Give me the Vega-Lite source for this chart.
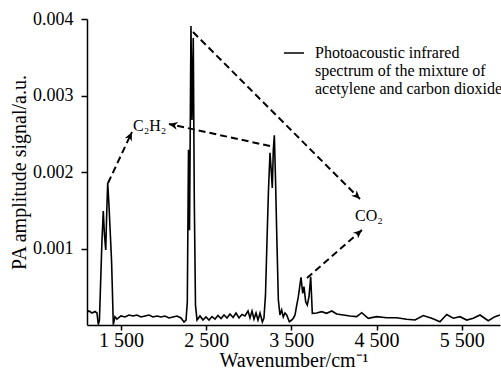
{
  "$schema": "https://vega.github.io/schema/vega-lite/v6.json",
  "width": 413,
  "height": 306,
  "autosize": "none",
  "padding": {"left": 87, "top": 19, "right": 1, "bottom": 47},
  "background": "white",
  "config": {
    "view": {"stroke": null},
    "font": "Liberation Serif",
    "axis": {
      "grid": false,
      "domainColor": "black",
      "domainWidth": 1.5,
      "tickColor": "black",
      "tickWidth": 1.5,
      "labelColor": "black",
      "titleColor": "black",
      "labelFont": "Liberation Serif",
      "titleFont": "Liberation Serif",
      "titleFontWeight": "normal"
    },
    "legend": {
      "labelFont": "Liberation Serif",
      "labelColor": "black"
    }
  },
  "datasets": {
    "spectrum": [
      {"wn": 1100, "pa": 0.000170},
      {"wn": 1123, "pa": 0.000183},
      {"wn": 1159, "pa": 0.000157},
      {"wn": 1194, "pa": 0.000176},
      {"wn": 1217, "pa": 0.000157},
      {"wn": 1233, "pa": 0.000005},
      {"wn": 1246, "pa": 0.000065},
      {"wn": 1276, "pa": 0.00111},
      {"wn": 1291, "pa": 0.00149},
      {"wn": 1305, "pa": 0.00118},
      {"wn": 1320, "pa": 0.00098},
      {"wn": 1331, "pa": 0.00144},
      {"wn": 1343, "pa": 0.00186},
      {"wn": 1358, "pa": 0.00157},
      {"wn": 1370, "pa": 0.00128},
      {"wn": 1388, "pa": 0.00085},
      {"wn": 1397, "pa": 0.00050},
      {"wn": 1409, "pa": 0.000005},
      {"wn": 1429, "pa": 0.000109},
      {"wn": 1452, "pa": 0.000078},
      {"wn": 1499, "pa": 0.000118},
      {"wn": 1546, "pa": 0.000105},
      {"wn": 1593, "pa": 0.000131},
      {"wn": 1640, "pa": 0.000118},
      {"wn": 1687, "pa": 0.000131},
      {"wn": 1734, "pa": 0.000105},
      {"wn": 1781, "pa": 0.000118},
      {"wn": 1828, "pa": 0.000131},
      {"wn": 1875, "pa": 0.000105},
      {"wn": 1922, "pa": 0.000118},
      {"wn": 1969, "pa": 0.000105},
      {"wn": 2016, "pa": 0.000118},
      {"wn": 2063, "pa": 0.000092},
      {"wn": 2110, "pa": 0.000105},
      {"wn": 2157, "pa": 0.000118},
      {"wn": 2204, "pa": 0.000092},
      {"wn": 2239, "pa": 0.000039},
      {"wn": 2263, "pa": 0.000065},
      {"wn": 2278, "pa": 0.00030},
      {"wn": 2292, "pa": 0.00229},
      {"wn": 2304, "pa": 0.00124},
      {"wn": 2321, "pa": 0.00391},
      {"wn": 2333, "pa": 0.00268},
      {"wn": 2348, "pa": 0.00375},
      {"wn": 2360, "pa": 0.00163},
      {"wn": 2374, "pa": 0.00026},
      {"wn": 2392, "pa": 0.000065},
      {"wn": 2427, "pa": 0.000118},
      {"wn": 2462, "pa": 0.000065},
      {"wn": 2497, "pa": 0.000105},
      {"wn": 2533, "pa": 0.000065},
      {"wn": 2568, "pa": 0.000111},
      {"wn": 2603, "pa": 0.000078},
      {"wn": 2638, "pa": 0.000124},
      {"wn": 2674, "pa": 0.000085},
      {"wn": 2709, "pa": 0.000131},
      {"wn": 2744, "pa": 0.000092},
      {"wn": 2779, "pa": 0.000144},
      {"wn": 2815, "pa": 0.000098},
      {"wn": 2850, "pa": 0.000157},
      {"wn": 2885, "pa": 0.000092},
      {"wn": 2920, "pa": 0.000137},
      {"wn": 2955, "pa": 0.000118},
      {"wn": 2991, "pa": 0.000183},
      {"wn": 3014, "pa": 0.000092},
      {"wn": 3038, "pa": 0.000183},
      {"wn": 3061, "pa": 0.000078},
      {"wn": 3085, "pa": 0.000157},
      {"wn": 3108, "pa": 0.000065},
      {"wn": 3132, "pa": 0.000157},
      {"wn": 3159, "pa": 0.000039},
      {"wn": 3178, "pa": 0.000092},
      {"wn": 3196, "pa": 0.00039},
      {"wn": 3214, "pa": 0.00111},
      {"wn": 3231, "pa": 0.00176},
      {"wn": 3249, "pa": 0.00225},
      {"wn": 3263, "pa": 0.00203},
      {"wn": 3276, "pa": 0.00179},
      {"wn": 3288, "pa": 0.00229},
      {"wn": 3300, "pa": 0.00248},
      {"wn": 3314, "pa": 0.00190},
      {"wn": 3328, "pa": 0.00120},
      {"wn": 3347, "pa": 0.00033},
      {"wn": 3366, "pa": 0.000131},
      {"wn": 3386, "pa": 0.000196},
      {"wn": 3405, "pa": 0.000105},
      {"wn": 3425, "pa": 0.000157},
      {"wn": 3445, "pa": 0.000131},
      {"wn": 3476, "pa": 0.000043},
      {"wn": 3504, "pa": 0.000065},
      {"wn": 3525, "pa": 0.000092},
      {"wn": 3543, "pa": 0.000131},
      {"wn": 3563, "pa": 0.00026},
      {"wn": 3582, "pa": 0.00037},
      {"wn": 3613, "pa": 0.000624},
      {"wn": 3633, "pa": 0.000414},
      {"wn": 3648, "pa": 0.000501},
      {"wn": 3668, "pa": 0.000305},
      {"wn": 3687, "pa": 0.000261},
      {"wn": 3707, "pa": 0.00037},
      {"wn": 3727, "pa": 0.000631},
      {"wn": 3746, "pa": 0.000153},
      {"wn": 3797, "pa": 0.000157},
      {"wn": 3856, "pa": 0.000174},
      {"wn": 3915, "pa": 0.000153},
      {"wn": 3974, "pa": 0.000183},
      {"wn": 4032, "pa": 0.000144},
      {"wn": 4110, "pa": 0.000131},
      {"wn": 4188, "pa": 0.000118},
      {"wn": 4267, "pa": 0.000109},
      {"wn": 4326, "pa": 0.000161},
      {"wn": 4403, "pa": 0.000088},
      {"wn": 4502, "pa": 0.000109},
      {"wn": 4619, "pa": 0.000095},
      {"wn": 4737, "pa": 0.000095},
      {"wn": 4854, "pa": 0.000075},
      {"wn": 4952, "pa": 0.000065},
      {"wn": 5049, "pa": 0.000124},
      {"wn": 5148, "pa": 0.000088},
      {"wn": 5245, "pa": 0.000043},
      {"wn": 5324, "pa": 0.000137},
      {"wn": 5401, "pa": 0.000088},
      {"wn": 5480, "pa": 0.000109},
      {"wn": 5559, "pa": 0.000065},
      {"wn": 5636, "pa": 0.000088},
      {"wn": 5715, "pa": 0.000131},
      {"wn": 5812, "pa": 0.000056},
      {"wn": 5891, "pa": 0.000109},
      {"wn": 5950, "pa": 0.000131}
    ],
    "arrows": [
      {"x": 1347, "y": 0.001856, "x2": 1628, "y2": 0.002523, "angle": 25.2},
      {"x": 3249, "y": 0.00234, "x2": 2063, "y2": 0.002627, "angle": 282.3},
      {"x": 2345, "y": 0.00383, "x2": 4306, "y2": 0.001647, "angle": 135},
      {"x": 3683, "y": 0.000614, "x2": 4329, "y2": 0.001242, "angle": 48.9}
    ],
    "labels": [
      {"wn": 1640, "pa": 0.002536, "text": "C₂H₂"},
      {"wn": 4247, "pa": 0.00136, "text": "CO₂"}
    ]
  },
  "layer": [
    {
      "data": {"name": "spectrum"},
      "mark": {"type": "line", "strokeWidth": 1.6, "clip": true},
      "encoding": {
        "x": {
          "field": "wn",
          "type": "quantitative",
          "scale": {"domain": [1100, 5950], "nice": false, "zero": false},
          "axis": {
            "values": [1500, 2500, 3500, 4500, 5500],
            "format": ",d",
            "labelExpr": "replace(datum.label, ',', ' ')",
            "labelFontSize": 20,
            "labelBaseline": "alphabetic",
            "tickSize": 5,
            "labelPadding": 16,
            "title": "Wavenumber/cm⁻¹",
            "titleFontSize": 20,
            "titleBaseline": "alphabetic",
            "titleY": 41
          }
        },
        "y": {
          "field": "pa",
          "type": "quantitative",
          "scale": {"domain": [0, 0.004], "nice": false},
          "axis": {
            "values": [0.001, 0.002, 0.003, 0.004],
            "format": ".3f",
            "labelFontSize": 18,
            "tickSize": 6,
            "labelPadding": 8,
            "title": "PA amplitude signal/a.u.",
            "titleFontSize": 20,
            "titleAngle": -90,
            "titleBaseline": "alphabetic",
            "titleAlign": "center",
            "titleX": -62,
            "titleY": 153
          }
        },
        "color": {
          "datum": "Photoacoustic infrared\nspectrum of the mixture of\nacetylene and carbon dioxide",
          "type": "nominal",
          "scale": {"range": ["black"]},
          "legend": {
            "title": null,
            "orient": "none",
            "legendX": 196,
            "legendY": 23,
            "padding": 0,
            "symbolType": "stroke",
            "symbolSize": 400,
            "symbolStrokeWidth": 1.5,
            "labelFontSize": 16,
            "labelOffset": 10,
            "labelLimit": 0,
            "labelBaseline": "middle",
            "labelExpr": "split(datum.label, '\\n')"
          }
        }
      }
    },
    {
      "data": {"name": "arrows"},
      "mark": {"type": "rule", "strokeDash": [7, 4], "strokeWidth": 2, "color": "black"},
      "encoding": {
        "x": {"field": "x", "type": "quantitative"},
        "y": {"field": "y", "type": "quantitative"},
        "x2": {"field": "x2"},
        "y2": {"field": "y2"}
      }
    },
    {
      "data": {"name": "arrows"},
      "mark": {"type": "point", "shape": "M0,0 L-0.45,1 L0,0.7 L0.45,1 Z", "filled": true, "size": 300, "color": "black", "opacity": 1},
      "encoding": {
        "x": {"field": "x2", "type": "quantitative"},
        "y": {"field": "y2", "type": "quantitative"},
        "angle": {"field": "angle", "type": "quantitative", "scale": null}
      }
    },
    {
      "data": {"name": "labels"},
      "mark": {"type": "text", "align": "left", "baseline": "alphabetic", "fontSize": 16, "font": "Liberation Serif", "color": "black"},
      "encoding": {
        "x": {"field": "wn", "type": "quantitative"},
        "y": {"field": "pa", "type": "quantitative"},
        "text": {"field": "text"}
      }
    }
  ]
}
